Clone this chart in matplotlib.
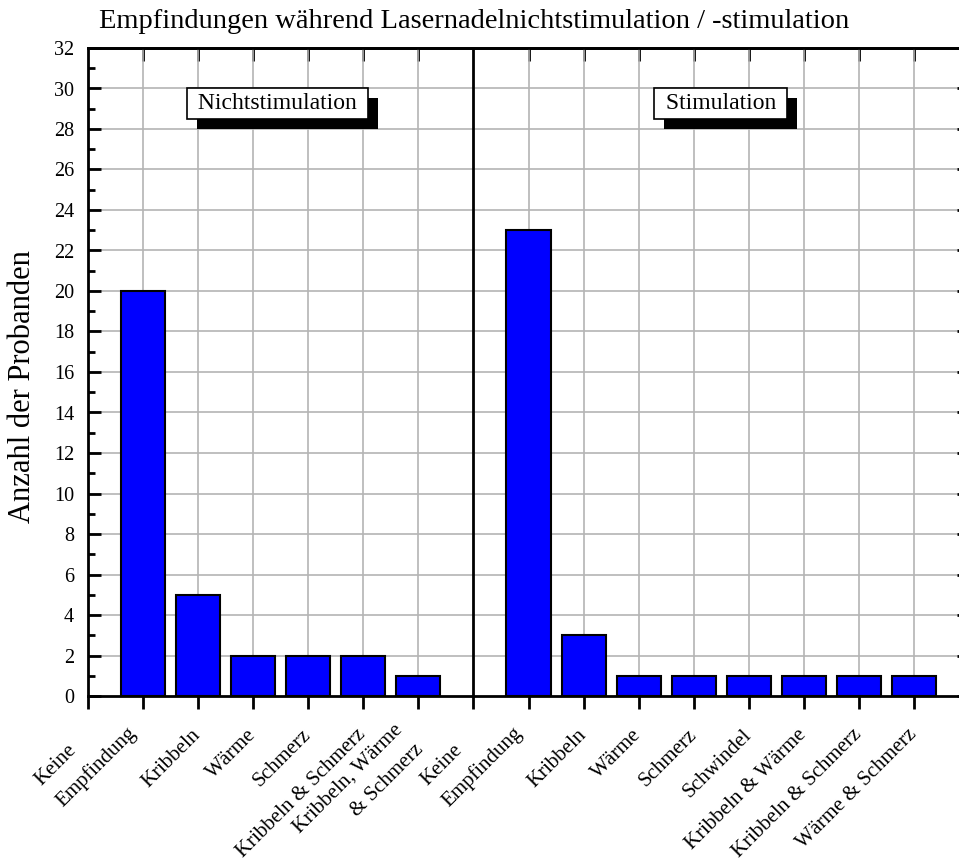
import matplotlib
matplotlib.use('Agg')
import matplotlib.pyplot as plt
import matplotlib.patheffects as pe
from matplotlib.transforms import ScaledTranslation
import numpy as np

plt.rcParams['font.family'] = 'Liberation Serif'

# data
labels_nicht = ['Keine\nEmpfindung', 'Kribbeln', 'Wärme', 'Schmerz',
                'Kribbeln & Schmerz', 'Kribbeln, Wärme\n& Schmerz']
values_nicht = [20, 5, 2, 2, 2, 1]
labels_stim = ['Keine\nEmpfindung', 'Kribbeln', 'Wärme', 'Schmerz', 'Schwindel',
               'Kribbeln & Wärme', 'Kribbeln & Schmerz', 'Wärme & Schmerz']
values_stim = [23, 3, 1, 1, 1, 1, 1, 1]

title = 'Empfindungen während Lasernadelnichtstimulation / -stimulation'
ylabel = 'Anzahl der Probanden'

pos_nicht = np.arange(1, len(values_nicht) + 1)
divider = len(values_nicht) + 1
pos_stim = np.arange(divider + 1, divider + 1 + len(values_stim))

fig = plt.figure(figsize=(9.59, 8.63), dpi=100)
ax = fig.add_axes([88 / 959, 167 / 863, 881 / 959, 648 / 863])

ax.bar(pos_nicht, values_nicht, 0.8, color='#0000ff', edgecolor='black', linewidth=1.5, zorder=3)
ax.bar(pos_stim, values_stim, 0.8, color='#0000ff', edgecolor='black', linewidth=1.5, zorder=3)
ax.axvline(divider, color='black', lw=2, zorder=4)

ax.set_xlim(0, 16)
ax.set_ylim(0, 32)

# gridlines
for p in list(pos_nicht) + list(pos_stim):
    ax.axvline(p, color='#b4b4b4', lw=1.2, zorder=1)
for y in range(2, 32, 2):
    ax.axhline(y, color='#b4b4b4', lw=1.2, zorder=1)

ticks = [0] + list(pos_nicht) + [divider] + list(pos_stim)
ticklabels = [''] + labels_nicht + [''] + labels_stim
ax.set_xticks(ticks)
ax.set_xticklabels(ticklabels, rotation=45, ha='right', va='center',
                   rotation_mode='anchor', fontsize=15, linespacing=1.7)
ax.tick_params(axis='x', direction='out', length=9, width=2, pad=17)

# multi-line labels sit a little further left in the original
for t in ax.get_xticklabels():
    txt = t.get_text()
    if txt.startswith('Keine'):
        t.set_multialignment('left')
        t.set_transform(t.get_transform() + ScaledTranslation(-0.2, 0.12, fig.dpi_scale_trans))
    elif '\n' in txt:
        t.set_multialignment('right')
        t.set_transform(t.get_transform() + ScaledTranslation(-0.08, -0.05, fig.dpi_scale_trans))

top = ax.secondary_xaxis('top')
top.set_xticks(list(pos_nicht) + list(pos_stim))
top.set_xticklabels([])
top.tick_params(direction='in', length=9, width=2)
top.spines['top'].set_linewidth(2)

ax.set_yticks(range(0, 33, 2))
ax.set_yticks(range(1, 32, 2), minor=True)
ax.tick_params(axis='y', which='major', direction='in', length=9, width=2,
               right=True, labelsize=14.5, pad=10)
ax.tick_params(axis='y', which='minor', direction='in', length=5, width=2, right=True)
for s in ax.spines.values():
    s.set_linewidth(2)

fig.text(0.494, 1 - 22 / 863, title, ha='center', va='center', fontsize=20.5)
fig.text(23 / 959, 0.552, ylabel, ha='center', va='center', rotation=90, fontsize=22)

# labelled boxes with drop shadow
for x, txt in [(3.44, 'Nichtstimulation'), (11.49, 'Stimulation')]:
    t = ax.text(x, 29.26, ' ' + txt + ' ', ha='center', va='center', fontsize=17,
                color='black', zorder=6,
                bbox=dict(boxstyle='square,pad=0.22', fc='white', ec='black', lw=1.2))
    t.get_bbox_patch().set_path_effects([
        pe.SimplePatchShadow(offset=(7.2, -7.2), shadow_rgbFace='black', alpha=1.0),
        pe.Normal()])

fig.savefig('out.png', dpi=100)
